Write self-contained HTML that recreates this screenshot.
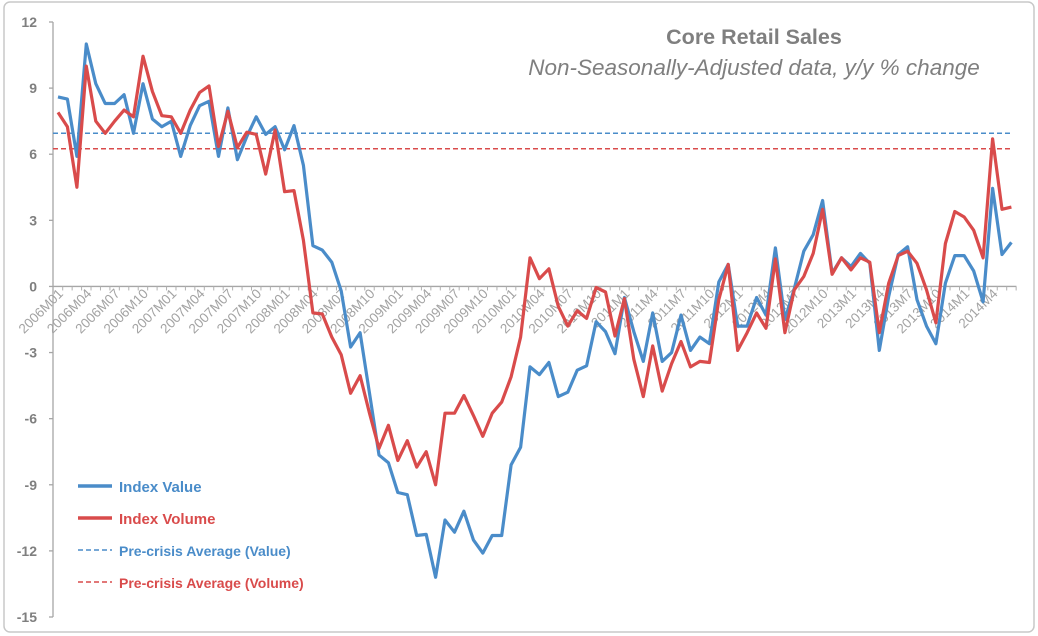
<!DOCTYPE html>
<html><head><meta charset="utf-8"><style>
body{margin:0;background:#fff;}
svg{display:block;font-family:"Liberation Sans",sans-serif;}
</style></head><body>
<svg id="chart" width="1038" height="636">
<rect x="4" y="2" width="1030" height="630" rx="6" fill="#fff" stroke="#c8c8c8" stroke-width="1.5"/>
<text x="754" y="44" text-anchor="middle" font-size="21.5" font-weight="bold" fill="#7f7f7f">Core Retail Sales</text>
<text x="754" y="75" text-anchor="middle" font-size="22.5" font-style="italic" fill="#7f7f7f">Non-Seasonally-Adjusted data, y/y % change</text>
<g id="axes"></g>
<g id="series"></g>
<g>
 <line x1="78" y1="486" x2="112" y2="486" stroke="#4a8cc9" stroke-width="3.5"/>
 <text x="119" y="492" font-size="15" font-weight="bold" fill="#4a8cc9">Index Value</text>
 <line x1="78" y1="518" x2="112" y2="518" stroke="#d94b4b" stroke-width="3.5"/>
 <text x="119" y="524" font-size="15" font-weight="bold" fill="#d94b4b">Index Volume</text>
 <line x1="78" y1="550" x2="112" y2="550" stroke="#4a8cc9" stroke-width="1.5" stroke-dasharray="5,3"/>
 <text x="119" y="556" font-size="14" font-weight="bold" fill="#4a8cc9">Pre-crisis Average (Value)</text>
 <line x1="78" y1="582" x2="112" y2="582" stroke="#d94b4b" stroke-width="1.5" stroke-dasharray="5,3"/>
 <text x="119" y="588" font-size="14" font-weight="bold" fill="#d94b4b">Pre-crisis Average (Volume)</text>
</g>
</svg>
<script>
const valueSeries=[8.6,8.5,5.9,11.0,9.2,8.3,8.3,8.7,6.95,9.2,7.6,7.25,7.5,5.9,7.3,8.2,8.4,5.9,8.1,5.75,6.8,7.7,6.9,7.25,6.2,7.3,5.5,1.85,1.65,1.1,-0.2,-2.75,-2.1,-4.85,-7.65,-8.0,-9.35,-9.45,-11.3,-11.25,-13.2,-10.6,-11.15,-10.2,-11.5,-12.1,-11.3,-11.3,-8.1,-7.3,-3.65,-4.0,-3.45,-5.0,-4.8,-3.8,-3.6,-1.6,-2.05,-3.05,-0.5,-2.05,-3.4,-1.2,-3.4,-3.0,-1.3,-2.9,-2.3,-2.6,0.2,1.0,-1.8,-1.8,-0.5,-1.3,1.75,-1.5,-0.1,1.6,2.35,3.9,0.6,1.3,0.9,1.5,1.05,-2.9,-0.45,1.45,1.8,-0.6,-1.8,-2.6,0.15,1.4,1.4,0.7,-0.7,4.45,1.45,2.0];
const volumeSeries=[7.9,7.25,4.5,10.0,7.5,6.95,7.5,8.0,7.7,10.45,8.85,7.75,7.7,6.95,8.0,8.8,9.1,6.35,7.95,6.3,7.0,6.9,5.1,7.1,4.3,4.35,2.1,-1.2,-1.25,-2.3,-3.1,-4.85,-4.05,-5.75,-7.35,-6.3,-7.9,-7.0,-8.2,-7.5,-9.0,-5.75,-5.75,-4.95,-5.85,-6.8,-5.75,-5.25,-4.1,-2.3,1.3,0.35,0.8,-0.9,-1.8,-1.1,-1.45,-0.05,-0.25,-2.25,-0.55,-3.3,-5.0,-2.7,-4.75,-3.5,-2.5,-3.65,-3.4,-3.45,-0.6,1.0,-2.9,-2.1,-1.2,-1.9,1.25,-2.1,-0.15,0.45,1.5,3.5,0.55,1.3,0.75,1.3,1.1,-2.1,0.15,1.4,1.6,1.05,-0.15,-1.65,1.95,3.4,3.15,2.55,1.3,6.7,3.5,3.6];
const precrisisValue=[6.95];
const precrisisVolume=[6.25];
const yTicks=[12,9,6,3,0,-3,-6,-9,-12,-15];
const xLabels=["2006M01","2006M04","2006M07","2006M10","2007M01","2007M04","2007M07","2007M10","2008M01","2008M04","2008M07","2008M10","2009M01","2009M04","2009M07","2009M10","2010M01","2010M04","2010M07","2010M10","2011M1","2011M4","2011M7","2011M10","2012M1","2012M4","2012M7","2012M10","2013M1","2013M4","2013M7","2013M10","2014M1","2014M4"];

const NS="http://www.w3.org/2000/svg";
const x0=58, dx=9.44, yTop=22, yBot=617, vTop=12, vBot=-15;
function xs(i){return x0+dx*i;}
function ys(v){return yTop+(vTop-v)*(yBot-yTop)/(vTop-vBot);}
function mk(tag,attrs,parent){const e=document.createElementNS(NS,tag);for(const k in attrs)e.setAttribute(k,attrs[k]);parent.appendChild(e);return e;}
const axes=document.getElementById('axes'), ser=document.getElementById('series');
const n=valueSeries.length;
const ya=mk('line',{x1:53,y1:yTop,x2:53,y2:yBot,stroke:'#a6a6a6','stroke-width':1.3},axes);


yTicks.forEach(v=>{
 const y=ys(v);
 mk('line',{x1:49,y1:y,x2:53,y2:y,stroke:'#a6a6a6','stroke-width':1.3},axes);
 const t=mk('text',{x:37,y:y+5,'text-anchor':'end','font-size':14,'font-weight':'bold',fill:'#7f7f7f'},axes);
 t.textContent=v;
 
 
});
const y0=ys(0);
const xa=mk('line',{x1:53,y1:y0,x2:xs(n-1)+5,y2:y0,stroke:'#a6a6a6','stroke-width':1.3},axes);


for(let i=0;i<n;i++){mk('line',{x1:xs(i)+4.7,y1:y0,x2:xs(i)+4.7,y2:y0+4,stroke:'#b0b0b0','stroke-width':1},axes);}
xLabels.forEach((lab,k)=>{
 const x=xs(k*3)+6, y=y0+8;
 const t=mk('text',{x:x,y:y,'text-anchor':'end','font-size':13.5,fill:'#a3a3a3',transform:`rotate(-45 ${x} ${y})`},axes);
 t.textContent=lab;
 
 
});
const av=mk('line',{x1:53,y1:ys(precrisisValue[0]),x2:1012,y2:ys(precrisisValue[0]),stroke:'#4a8cc9','stroke-width':1.5,'stroke-dasharray':'5,3'},ser);


const avv=mk('line',{x1:53,y1:ys(precrisisVolume[0]),x2:1012,y2:ys(precrisisVolume[0]),stroke:'#d94b4b','stroke-width':1.5,'stroke-dasharray':'5,3'},ser);


function path(arr){return arr.map((v,i)=>(i?'L':'M')+xs(i).toFixed(1)+','+ys(v).toFixed(1)).join(' ');}
const pv=mk('path',{d:path(valueSeries),fill:'none',stroke:'#4a8cc9','stroke-width':3.2,'stroke-linejoin':'round'},ser);


const pr=mk('path',{d:path(volumeSeries),fill:'none',stroke:'#d94b4b','stroke-width':3.2,'stroke-linejoin':'round'},ser);


</script>
</body></html>
